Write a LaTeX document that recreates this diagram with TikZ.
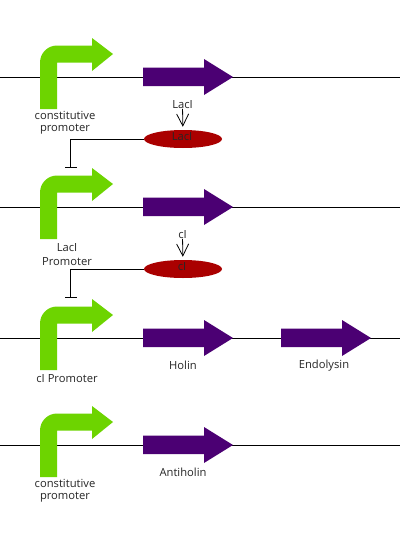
\documentclass[tikz,border=0pt]{standalone}
\usepackage{fontspec}
\setmainfont{Open Sans}
\usetikzlibrary{arrows.meta,shapes.geometric}

\definecolor{promgreen}{HTML}{6DD400}
\definecolor{genepurple}{HTML}{4B0073}
\definecolor{protred}{HTML}{AA0000}

\tikzset{
    backbone/.style={black, line width=1pt},
    promoter/.style={fill=promgreen, draw=none},
    gene/.style={fill=genepurple, draw=none},
    protein/.style={ellipse, fill=protred, draw=none, minimum width=78pt, minimum height=18pt, inner sep=0pt},
    lbl/.style={font=\fontsize{11.2}{13}\selectfont, inner sep=0pt, text=black!85},
    repress/.style={black, line width=0.8pt, -{Bar[width=12pt,line width=0.8pt]}},
    produce/.style={black, line width=0.8pt, -{Straight Barb[length=12pt,width=12pt,line width=0.8pt]}, shorten >=3pt}
}

% y is the height of the backbone
\newcommand{\promotershape}[1]{
    \fill[promoter] (40,#1+32) -- (40,#1-14.5) arc[start angle=180, end angle=270, radius=17] -- (92,#1-31.5)
        -- (92,#1-39) -- (113,#1-23) -- (92,#1-6) -- (92,#1-14.5) -- (57,#1-14.5) -- (57,#1+32) -- cycle;
}
\newcommand{\geneshape}[2]{
    \fill[gene] (#1,#2-9.5) -- (#1+61,#2-9.5) -- (#1+61,#2-18) -- (#1+90,#2) -- (#1+61,#2+18)
        -- (#1+61,#2+9) -- (#1,#2+9) -- cycle;
}

\begin{document}
\begin{tikzpicture}[x=1pt, y=-1pt]
    \useasboundingbox (0,0) rectangle (400,541);
    \fill[white] (0,0) rectangle (400,541);

    \foreach \y in {77,207,338,445} {
        \draw[backbone] (0,\y) -- (400,\y);
        \promotershape{\y}
        \geneshape{143}{\y}
    }
    \geneshape{281}{338}

    \node[lbl] (promA) at (65,115) {constitutive};
    \node[lbl] (promB) at (65,129) {promoter};
    \node[lbl] (promC) at (67,247.5) {LacI};
    \node[lbl] (promD) at (67,261.5) {Promoter};
    \node[lbl] (promE) at (67,378.5) {cI Promoter};
    \node[lbl] (promF) at (65,483) {constitutive};
    \node[lbl] (promG) at (65,497) {promoter};
    \node[lbl] (holin) at (183,365.5) {Holin};
    \node[lbl] (endolysin) at (324,365.5) {Endolysin};
    \node[lbl] (antiholin) at (183,472.5) {Antiholin};

    \node[protein] (laci) at (183,139) {};
    \node[lbl] (laciname) at (182,136.5) {LacI};
    \node[lbl] (lacitop) at (182.5,104.5) {LacI};
    \draw[produce] (lacitop) -- (laci);
    \coordinate (teeA) at (70.5,168);
    \draw[repress] (laci.west) -| (teeA);

    \node[protein] (ci) at (183,269) {};
    \node[lbl] (ciname) at (182,266.5) {cI};
    \node[lbl] (citop) at (182.5,234.5) {cI};
    \draw[produce] (citop) -- (ci);
    \coordinate (teeB) at (70.5,298);
    \draw[repress] (ci.west) -| (teeB);
\end{tikzpicture}
\end{document}
